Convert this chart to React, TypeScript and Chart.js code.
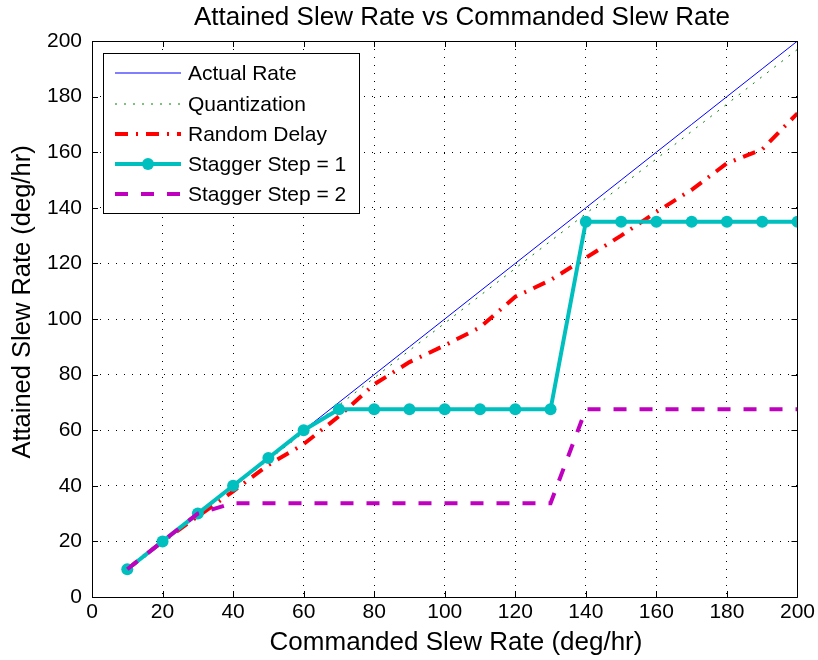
import React, { useEffect, useRef } from "react";
import { Chart, registerables } from "chart.js";

Chart.register(...registerables);

const chartTitle = "Attained Slew Rate vs Commanded Slew Rate";
const xAxisTitle = "Commanded Slew Rate (deg/hr)";
const yAxisTitle = "Attained Slew Rate (deg/hr)";

const commanded = [10, 20, 30, 40, 50, 60, 70, 80, 90, 100, 110, 120, 130, 140, 150, 160, 170, 180, 190, 200];
const actualRate = [10, 20, 30, 40, 50, 60, 70, 80, 90, 100, 110, 120, 130, 140, 150, 160, 170, 180, 190, 200];
const quantization = [9.9, 19.7, 29.6, 39.4, 49.3, 59.1, 69, 78.8, 88.7, 98.5, 108.4, 118.2, 128, 137.9, 147.8, 157.6, 167.5, 177.3, 187.2, 197];
const randomDelay = [10, 20, 29, 38, 47.5, 55, 65, 76.5, 84.5, 90.5, 97, 108, 114, 122, 130, 138.5, 146.5, 156, 161, 174];
const staggerStep1 = [10, 20, 30, 40, 50, 60, 67.5, 67.5, 67.5, 67.5, 67.5, 67.5, 67.5, 135, 135, 135, 135, 135, 135, 135];
const staggerStep2 = [10, 20, 30, 33.75, 33.75, 33.75, 33.75, 33.75, 33.75, 33.75, 33.75, 33.75, 33.75, 67.5, 67.5, 67.5, 67.5, 67.5, 67.5, 67.5];
const xTicks = [0, 20, 40, 60, 80, 100, 120, 140, 160, 180, 200];
const yTicks = [0, 20, 40, 60, 80, 100, 120, 140, 160, 180, 200];

const FONT = "'Liberation Sans', Arial, Helvetica, sans-serif";

const pts = (ys: number[]) => commanded.map((x, i) => ({ x, y: ys[i] }));

const frameLegendPlugin = {
  id: "frameLegend",
  afterDraw(chart: any) {
    const { ctx, chartArea } = chart;
    const { left, right, top, bottom } = chartArea;
    const xs = chart.scales.x;
    const ys = chart.scales.y;
    ctx.save();
    ctx.strokeStyle = "#000";
    ctx.lineWidth = 1;
    ctx.setLineDash([]);
    ctx.beginPath();
    ctx.rect(Math.round(left) + 0.5, Math.round(top) + 0.5, Math.round(right - left), Math.round(bottom - top));
    ctx.stroke();
    const tl = 6;
    ctx.beginPath();
    xTicks.forEach((v) => {
      const px = Math.round(xs.getPixelForValue(v)) + 0.5;
      ctx.moveTo(px, bottom);
      ctx.lineTo(px, bottom - tl);
      ctx.moveTo(px, top);
      ctx.lineTo(px, top + tl);
    });
    yTicks.forEach((v) => {
      const py = Math.round(ys.getPixelForValue(v)) + 0.5;
      ctx.moveTo(left, py);
      ctx.lineTo(left + tl, py);
      ctx.moveTo(right, py);
      ctx.lineTo(right - tl, py);
    });
    ctx.stroke();

    // titles
    ctx.fillStyle = "#000";
    ctx.textAlign = "center";
    ctx.textBaseline = "alphabetic";
    ctx.font = `26px ${FONT}`;
    ctx.fillText(chartTitle, 462, 25);
    ctx.fillText(xAxisTitle, 456, 650);
    ctx.save();
    ctx.translate(30, 302);
    ctx.rotate(-Math.PI / 2);
    ctx.font = `25.5px ${FONT}`;
    ctx.fillText(yAxisTitle, 0, 0);
    ctx.restore();

    // legend box
    const bx = 103.5;
    const by = 53.5;
    const bw = 256;
    const bh = 160;
    ctx.fillStyle = "#fff";
    ctx.fillRect(bx, by, bw, bh);
    ctx.strokeStyle = "#000";
    ctx.lineWidth = 1;
    ctx.strokeRect(bx, by, bw, bh);
    const dsList = chart.data.datasets;
    const rowY = [73, 104, 134, 164, 194];
    ctx.font = `21px ${FONT}`;
    ctx.textBaseline = "middle";
    ctx.textAlign = "left";
    dsList.forEach((ds: any, i: number) => {
      const ry = rowY[i];
      const x0 = 115;
      const x1 = 181;
      ctx.save();
      ctx.strokeStyle = ds.borderColor;
      ctx.lineWidth = ds.borderWidth;
      ctx.setLineDash(ds.borderDash || []);
      ctx.lineCap = "butt";
      ctx.beginPath();
      ctx.moveTo(x0, ry);
      ctx.lineTo(x1, ry);
      ctx.stroke();
      if (ds.pointRadius > 0) {
        ctx.setLineDash([]);
        ctx.fillStyle = ds.pointBackgroundColor;
        ctx.beginPath();
        ctx.arc((x0 + x1) / 2, ry, ds.pointRadius, 0, Math.PI * 2);
        ctx.fill();
      }
      ctx.restore();
      ctx.fillStyle = "#000";
      ctx.fillText(ds.label, 188, rowY[i] + 1);
    });
    ctx.restore();
  },
};

export default function App() {
  const ref = useRef<HTMLCanvasElement | null>(null);
  useEffect(() => {
    if (!ref.current) return;
    const chart = new Chart(ref.current, {
      type: "line",
      data: {
        datasets: [
          {
            label: "Actual Rate",
            data: pts(actualRate),
            borderColor: "#0000ff",
            borderWidth: 1,
            pointRadius: 0,
            order: 5,
          },
          {
            label: "Quantization",
            data: pts(quantization),
            borderColor: "#008000",
            borderWidth: 1,
            borderDash: [2, 7],
            pointRadius: 0,
            order: 4,
          },
          {
            label: "Random Delay",
            data: pts(randomDelay),
            borderColor: "#ff0000",
            borderWidth: 4,
            borderDash: [13, 8, 2, 8],
            pointRadius: 0,
            order: 3,
          },
          {
            label: "Stagger Step = 1",
            data: pts(staggerStep1),
            borderColor: "#00bfbf",
            borderWidth: 4,
            pointRadius: 6,
            pointBackgroundColor: "#00bfbf",
            pointBorderColor: "#00bfbf",
            pointBorderWidth: 0,
            order: 2,
          },
          {
            label: "Stagger Step = 2",
            data: pts(staggerStep2),
            borderColor: "#bf00bf",
            borderWidth: 4,
            borderDash: [13, 13],
            pointRadius: 0,
            order: 1,
          },
        ] as any,
      },
      options: {
        animation: false,
        responsive: false,
        events: [],
        layout: { padding: { left: 0, right: 20, top: 41, bottom: 0 } },
        plugins: {
          legend: { display: false },
          tooltip: { enabled: false },
          title: { display: false },
        },
        scales: {
          x: {
            type: "linear",
            min: 0,
            max: 200,
            afterFit: (s: any) => {
              s.height = 63;
            },
            afterBuildTicks: (s: any) => {
              s.ticks = xTicks.map((v) => ({ value: v }));
            },
            ticks: {
              color: "#000",
              font: { family: FONT, size: 21 },
              padding: 3,
              maxRotation: 0,
            },
            grid: { color: "#000", lineWidth: 1, drawTicks: false },
            border: { display: false, dash: [1, 7] },
          },
          y: {
            type: "linear",
            min: 0,
            max: 200,
            afterFit: (s: any) => {
              s.width = 92;
            },
            afterBuildTicks: (s: any) => {
              s.ticks = yTicks.map((v) => ({ value: v }));
            },
            ticks: {
              color: "#000",
              font: { family: FONT, size: 21 },
              padding: 10,
            },
            grid: { color: "#000", lineWidth: 1, drawTicks: false },
            border: { display: false, dash: [1, 7] },
          },
        },
      } as any,
      plugins: [frameLegendPlugin],
    });
    return () => chart.destroy();
  }, []);
  return (
    <div style={{ position: "absolute", left: 0, top: 0, width: 818, height: 660, background: "#fff" }}>
      <canvas ref={ref} width={818} height={660} style={{ display: "block", width: 818, height: 660 }} />
    </div>
  );
}
